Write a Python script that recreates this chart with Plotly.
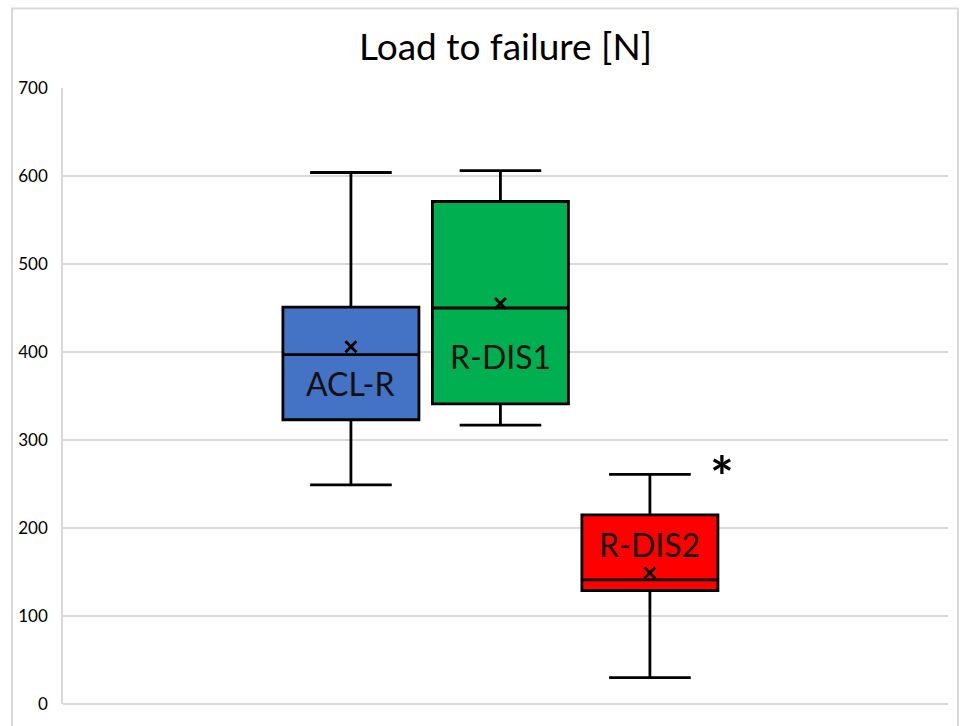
import plotly.graph_objects as go

groups = ["ACL-R", "R-DIS1", "R-DIS2"]
lower_whisker = [249, 317, 30]
q1_values = [323, 341, 129]
median_values = [397, 450, 141]
q3_values = [451, 571, 215]
upper_whisker = [604, 606, 261]
mean_values = [406, 455, 149]
fill_colors = ["#4472C4", "#00B050", "#FF0000"]

y_ticks = [0, 100, 200, 300, 400, 500, 600, 700]

FONT = "Lato"

fig = go.Figure()
for i, g in enumerate(groups):
    fig.add_trace(go.Box(
        x=[g],
        q1=[q1_values[i]], median=[median_values[i]], q3=[q3_values[i]],
        lowerfence=[lower_whisker[i]], upperfence=[upper_whisker[i]],
        fillcolor=fill_colors[i],
        line=dict(color="black", width=2.8),
        whiskerwidth=0.6,
        width=0.91,
        boxpoints=False,
        showlegend=False,
        hoverinfo="skip",
    ))

fig.add_trace(go.Scatter(
    x=groups, y=mean_values, mode="markers",
    marker=dict(symbol="x-thin", size=11, line=dict(color="black", width=2.8)),
    showlegend=False, hoverinfo="skip",
))

label_y = [364, 395, 181]
for g, ly in zip(groups, label_y):
    fig.add_annotation(x=g, y=ly, text=g, showarrow=False,
                       font=dict(family=FONT, size=32, color="#111111"))

fig.add_annotation(x=2.48, y=260, text="<b>*</b>", showarrow=False,
                   font=dict(family=FONT, size=56, color="black"))

fig.add_shape(type="rect", xref="paper", yref="paper",
              x0=-0.0576, x1=1.0113, y0=-0.07, y1=1.129,
              line=dict(color="#d9d9d9", width=2), layer="below")

fig.update_layout(
    width=960, height=726,
    margin=dict(l=63, r=12, t=88, b=19),
    paper_bgcolor="white", plot_bgcolor="white",
    title=dict(text="Load to failure [N]", x=0.5, xanchor="center",
               xref="paper", y=0.935, yanchor="middle",
               font=dict(family=FONT, size=37, color="black")),
    xaxis=dict(type="category", range=[-1.926, 3.994], showticklabels=False,
               showgrid=False, zeroline=False, showline=False, ticks=""),
    yaxis=dict(range=[0, 700], tickvals=y_ticks, showgrid=True,
               gridcolor="#d9d9d9", gridwidth=1.5, zeroline=True,
               zerolinecolor="#d9d9d9", zerolinewidth=1.5,
               showline=True, linecolor="#d9d9d9", linewidth=1.5,
               ticks="", ticklabelstandoff=10,
               tickfont=dict(family=FONT, size=17, color="black")),
    font=dict(family=FONT),
)

fig.write_html("out.html", config={"displayModeBar": False},
               post_script="document.body.style.margin='0px';")
